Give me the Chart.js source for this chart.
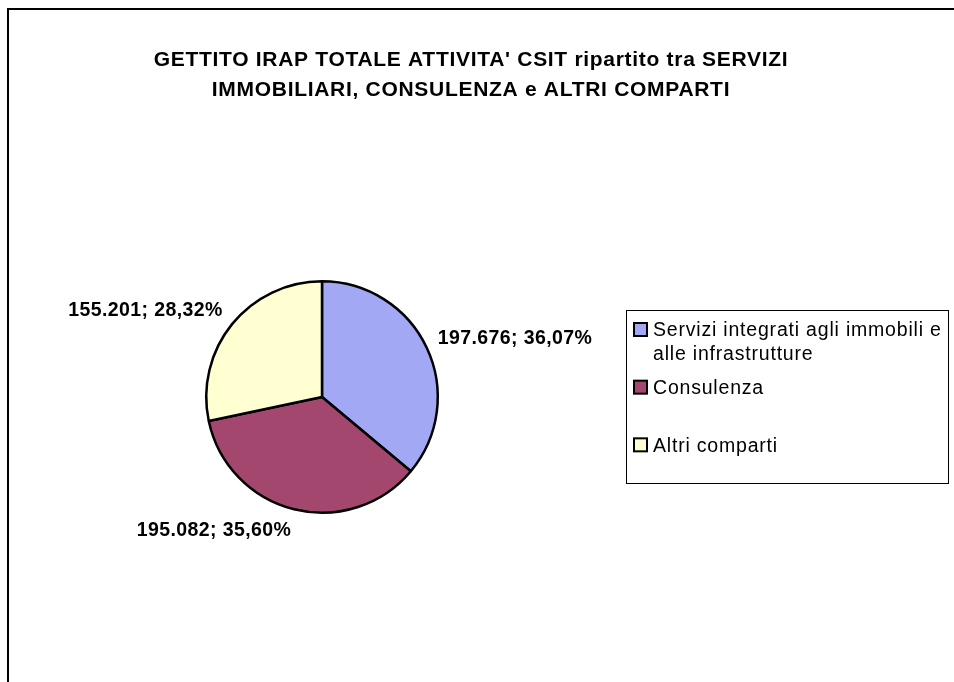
<!DOCTYPE html>
<html>
<head>
<meta charset="utf-8">
<script src="https://cdn.jsdelivr.net/npm/chart.js@4.4.0/dist/chart.umd.min.js"></script>
<style>
  body { margin: 0; background: #fff; }
  #wrap { position: relative; width: 954px; height: 682px; }
</style>
</head>
<body>
<div id="wrap"><canvas id="js-pie-chart" width="954" height="682"></canvas></div>
<script>
const pieCanvas = document.querySelector('#js-pie-chart');

const titleLines = [
  "GETTITO IRAP TOTALE ATTIVITA' CSIT ripartito tra SERVIZI",
  'IMMOBILIARI, CONSULENZA e ALTRI COMPARTI'
];
const categories = ['Servizi integrati agli immobili e alle infrastrutture', 'Consulenza', 'Altri comparti'];
const irapValues = [197676, 195082, 155201];
const percentLabels = ['36,07%', '35,60%', '28,32%'];
const sliceColors = ['#A3A8F5', '#A3476F', '#FFFFD2'];

const fmtThousands = (v) => String(v).replace(/\B(?=(\d{3})+(?!\d))/g, '.');

// frame + title
const framePlugin = {
  id: 'frame',
  beforeDraw(chart) {
    const ctx = chart.ctx;
    ctx.save();
    ctx.fillStyle = '#fff';
    ctx.fillRect(0, 0, chart.width, chart.height);
    ctx.strokeStyle = '#000';
    ctx.lineWidth = 2;
    ctx.beginPath();
    ctx.moveTo(8, chart.height);
    ctx.lineTo(8, 9);
    ctx.lineTo(chart.width, 9);
    ctx.stroke();

    ctx.fillStyle = '#000';
    ctx.font = 'bold 21px "Liberation Sans", Arial, sans-serif';
    ctx.letterSpacing = '0.7px';
    ctx.textAlign = 'center';
    ctx.textBaseline = 'middle';
    titleLines.forEach((line, i) => ctx.fillText(line, 471, 60 + i * 30));
    ctx.restore();
  }
};

// value labels outside each slice
const sliceLabelPlugin = {
  id: 'sliceLabels',
  afterDatasetsDraw(chart) {
    const ctx = chart.ctx;
    const arcs = chart.getDatasetMeta(0).data;
    ctx.save();
    ctx.font = 'bold 19.5px "Liberation Sans", Arial, sans-serif';
    ctx.letterSpacing = '0.4px';
    ctx.fillStyle = '#000';
    ctx.textBaseline = 'middle';
    arcs.forEach((arc, i) => {
      const text = fmtThousands(irapValues[i]) + '; ' + percentLabels[i];
      const h = 19;
      const mid = (arc.startAngle + arc.endAngle) / 2;
      const r = arc.outerRadius + 12;
      const ax = arc.x + Math.cos(mid) * r;
      const ay = arc.y + Math.sin(mid) * r;
      ctx.textAlign = Math.cos(mid) < 0 ? 'right' : 'left';
      ctx.fillText(text, ax, ay + Math.sin(mid) * h / 2);
    });
    ctx.restore();
  }
};

// boxed legend on the right
const boxLegendPlugin = {
  id: 'boxLegend',
  afterDraw(chart) {
    const ctx = chart.ctx;
    const box = { x: 626, y: 310, w: 322, h: 173 };
    const slot = box.h / categories.length;
    ctx.save();
    ctx.strokeStyle = '#000';
    ctx.lineWidth = 1;
    ctx.strokeRect(box.x + 0.5, box.y + 0.5, box.w, box.h);
    ctx.font = '19.5px "Liberation Sans", Arial, sans-serif';
    ctx.letterSpacing = '0.8px';
    ctx.textBaseline = 'middle';
    ctx.textAlign = 'left';
    const maxW = box.w - 29;
    categories.forEach((cat, i) => {
      // wrap text
      const words = cat.split(' ');
      const lines = [];
      let cur = '';
      words.forEach((wd) => {
        const test = cur ? cur + ' ' + wd : wd;
        if (ctx.measureText(test).width > maxW && cur) {
          lines.push(cur);
          cur = wd;
        } else {
          cur = test;
        }
      });
      lines.push(cur);
      const y0 = box.y + 20 + i * slot;
      ctx.fillStyle = sliceColors[i];
      ctx.fillRect(box.x + 8, y0 - 7, 13, 13);
      ctx.strokeStyle = '#000';
      ctx.lineWidth = 2;
      ctx.strokeRect(box.x + 8, y0 - 7, 13, 13);
      ctx.fillStyle = '#000';
      lines.forEach((ln, j) => ctx.fillText(ln, box.x + 27, y0 + 1 + j * 24));
    });
    ctx.restore();
  }
};

const pieData = {
  labels: categories,
  datasets: [{
    data: irapValues,
    backgroundColor: sliceColors,
    borderColor: '#000',
    borderWidth: 2.5
  }]
};

const pieConfig = {
  type: 'pie',
  data: pieData,
  options: {
    responsive: false,
    animation: false,
    layout: {
      padding: { left: 205, right: 515, top: 280, bottom: 168 }
    },
    plugins: {
      legend: { display: false },
      tooltip: { enabled: false }
    }
  },
  plugins: [framePlugin, sliceLabelPlugin, boxLegendPlugin]
};

new Chart(pieCanvas, pieConfig);
</script>
</body>
</html>
